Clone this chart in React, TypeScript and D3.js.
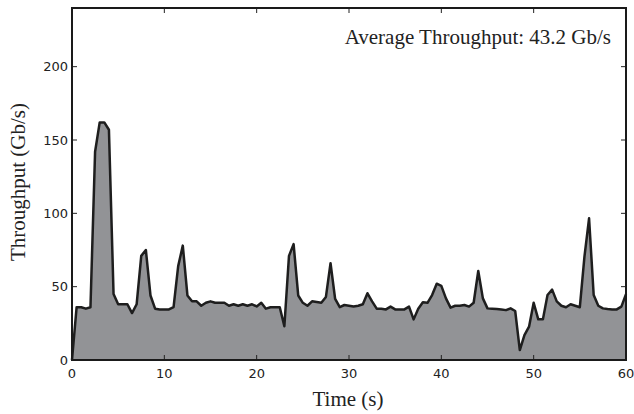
import React from "react";
import * as d3 from "d3";

const timeStep = 0.5;
const throughput: number[] = [
  0, 36, 36, 35, 36, 142, 162, 162, 157, 45,
  38, 38, 38, 32, 38, 71, 75, 44, 35, 34.5,
  34.5, 34.5, 36, 64, 78, 44, 40, 40, 37, 39,
  40, 39, 39, 39, 37, 38, 37, 38, 37, 38,
  36.5, 39, 35, 36, 36, 36, 23, 71, 79, 44,
  39, 37, 40, 39.5, 39, 43, 66, 41.6, 36, 37.5,
  37, 36.5, 37, 38, 45.5, 40, 35, 35, 34.5, 36.4,
  34.5, 34.5, 34.5, 36.4, 27.7, 35, 39.3, 39, 44.3, 52,
  50.5, 42, 35.7, 37, 37, 37.5, 36.4, 39, 60.7, 42,
  35.2, 35, 34.8, 34.5, 34, 35.2, 33.4, 6.8, 17, 22.7,
  39, 27.7, 27.7, 44.3, 48, 40, 37, 36, 38, 37,
  36, 70.5, 96.6, 44.3, 37, 35.2, 34.8, 34.5, 34.5, 36.4,
  44.8,
];
const xTicks = [0, 10, 20, 30, 40, 50, 60];
const yTicks = [0, 50, 100, 150, 200];
const xLabel = "Time (s)";
const yLabel = "Throughput (Gb/s)";
const annotation = "Average Throughput: 43.2 Gb/s";

export default function App() {
  const W = 634, H = 414;
  const L = 72, R = 626, T = 8, B = 360;
  const x = d3.scaleLinear().domain([0, 60]).range([L, R]);
  const y = d3.scaleLinear().domain([0, 240]).range([B, T]);
  const pts = throughput.map((v, i) => [i * timeStep, v] as [number, number]);
  const area = d3.area<[number, number]>().x(d => x(d[0])).y0(y(0)).y1(d => y(d[1]))(pts) || "";
  const line = d3.line<[number, number]>().x(d => x(d[0])).y(d => y(d[1]))(pts) || "";
  const tickFont = "'DejaVu Sans', sans-serif";
  const serif = "'Liberation Serif', 'Times New Roman', serif";
  return (
    <svg width={W} height={H} style={{ position: "absolute", left: 0, top: 0 }}>
      <rect width={W} height={H} fill="#fff" />
      <path d={area} fill="#929396" />
      <path d={line} fill="none" stroke="#1e1e1e" strokeWidth={2.5} strokeLinejoin="round" />
      {xTicks.map(t => (
        <g key={"x" + t}>
          <line x1={x(t)} x2={x(t)} y1={B} y2={B - 5} stroke="#222" strokeWidth={1} />
          <line x1={x(t)} x2={x(t)} y1={T} y2={T + 5} stroke="#222" strokeWidth={1} />
          <text x={x(t)} y={B + 18} textAnchor="middle" fontFamily={tickFont} fontSize={13} fill="#222">{t}</text>
        </g>
      ))}
      {yTicks.map(t => (
        <g key={"y" + t}>
          <line x1={L} x2={L + 5} y1={y(t)} y2={y(t)} stroke="#222" strokeWidth={1} />
          <line x1={R} x2={R - 5} y1={y(t)} y2={y(t)} stroke="#222" strokeWidth={1} />
          <text x={L - 4} y={y(t) + 4.5} textAnchor="end" fontFamily={tickFont} fontSize={13} fill="#222">{t}</text>
        </g>
      ))}
      <rect x={L} y={T} width={R - L} height={B - T} fill="none" stroke="#1a1a1a" strokeWidth={2} />
      <text x={348} y={406} textAnchor="middle" fontFamily={serif} fontSize={21} fill="#222">{xLabel}</text>
      <text transform={`translate(25, 182) rotate(-90)`} textAnchor="middle" fontFamily={serif} fontSize={21} fill="#222">{yLabel}</text>
      <text x={611} y={44} textAnchor="end" fontFamily={serif} fontSize={21} fill="#222">{annotation}</text>
    </svg>
  );
}
